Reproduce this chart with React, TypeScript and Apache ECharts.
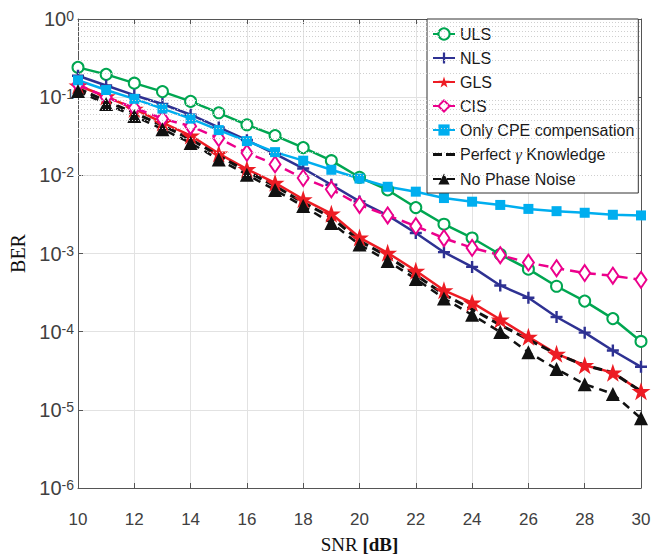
import React, { useEffect, useRef } from "react";
import * as echarts from "echarts";

// SNR points in dB
const snr = [10, 11, 12, 13, 14, 15, 16, 17, 18, 19, 20, 21, 22, 23, 24, 25, 26, 27, 28, 29, 30];

// Bit error rate for each estimator
const uls = [0.2405, 0.1955, 0.151, 0.1178, 0.0883, 0.0631, 0.0443, 0.0323, 0.0226, 0.0154, 0.00944, 0.0065, 0.00387, 0.00237, 0.00158, 0.000972, 0.000631, 0.000381, 0.000246, 0.000147, 7.5e-5];
const nls = [0.188, 0.141, 0.106, 0.0818, 0.0596, 0.041, 0.0282, 0.0188, 0.01224, 0.00757, 0.00464, 0.00307, 0.00183, 0.00104, 0.000674, 0.00039, 0.000272, 0.000154, 9.72e-5, 5.74e-5, 3.55e-5];
const gls = [0.141, 0.102, 0.0708, 0.0473, 0.0323, 0.019, 0.012, 0.00801, 0.00494, 0.00323, 0.0016, 0.00102, 0.000601, 0.000338, 0.000235, 0.000143, 8.59e-5, 5.2e-5, 3.72e-5, 2.99e-5, 1.73e-5];
const cis = [0.1454, 0.1, 0.0729, 0.0531, 0.0425, 0.0299, 0.0194, 0.0138, 0.00925, 0.00663, 0.00418, 0.00307, 0.00224, 0.00157, 0.00118, 0.000952, 0.000765, 0.000649, 0.000562, 0.00052, 0.00046];
const cpeOnly = [0.1645, 0.1234, 0.0952, 0.0714, 0.0531, 0.0379, 0.0274, 0.0198, 0.0154, 0.01178, 0.0091, 0.00714, 0.00618, 0.00512, 0.0046, 0.00418, 0.00372, 0.00348, 0.00332, 0.00313, 0.00307];
const perfectGamma = [0.1296, 0.0891, 0.0631, 0.0434, 0.029, 0.0178, 0.0112, 0.00729, 0.00447, 0.0029, 0.00145, 0.000917, 0.000531, 0.000299, 0.000194, 0.000122, 7.94e-5, 5.16e-5, 3.72e-5, 2.99e-5, 1.73e-5];
const noPhaseNoise = [0.12, 0.0818, 0.0574, 0.039, 0.0259, 0.016, 0.0102, 0.0065, 0.00404, 0.00246, 0.0013, 0.000802, 0.000473, 0.000266, 0.000164, 9.91e-5, 5.46e-5, 3.32e-5, 2.13e-5, 1.6e-5, 7.79e-6];

const PERFECT = "Perfect \u03b3 Knowledge";
const seriesNames = ["ULS", "NLS", "GLS", "CIS", "Only CPE compensation", PERFECT, "No Phase Noise"];

// Decades of the BER axis, used for the dotted minor grid
const decades = [-6, -5, -4, -3, -2, -1];
const minorSteps = [2, 3, 4, 5, 6, 7, 8, 9];

const SANS = "'Liberation Sans', Arial, Helvetica, sans-serif";
const SERIF = "'Liberation Serif', 'Times New Roman', serif";

const STAR = "path://M0,-100L22.45,-30.9L95.1,-30.9L36.3,11.8L58.8,80.9L0,38.2L-58.8,80.9L-36.3,11.8L-95.1,-30.9L-22.45,-30.9Z";
const PLUS = "path://M-2,-10H2V-2H10V2H2V10H-2V2H-10V-2H-2Z";
// two short dashes for the marker-less dashed line in the legend
const DASHES = "path://M0,0H9V3H0ZM13,0H22V3H13Z";

const zip = (ys: number[]) => snr.map((x, i) => [x, ys[i]]);

export default function App() {
  const ref = useRef<HTMLDivElement>(null);

  useEffect(() => {
    if (!ref.current) return;
    const chart = echarts.init(ref.current, undefined, { renderer: "svg" });

    const minorLines: any[] = [];
    decades.forEach((d) => minorSteps.forEach((k) => minorLines.push({ yAxis: k * Math.pow(10, d) })));

    const axisLine = { show: true, lineStyle: { color: "#555", width: 1 } };
    const tickStyle = { show: true, inside: true, length: 5, lineStyle: { color: "#555" } };

    const lineSeries = (name: string, data: number[], color: string, extra: any) => ({
      name,
      type: "line",
      data: zip(data),
      clip: false,
      color,
      lineStyle: { color, width: 2.5 },
      itemStyle: { color },
      ...extra,
    });

    chart.setOption({
      animation: false,
      backgroundColor: "#fff",
      grid: { left: 72, right: 23, top: 19, bottom: 60, containLabel: false },
      legend: {
        data: seriesNames.map((n) => (n === PERFECT ? { name: n, icon: DASHES } : n)),
        orient: "vertical",
        left: 427,
        top: 19,
        itemWidth: 22,
        itemHeight: 14,
        itemGap: 8,
        padding: [7, 4, 6, 5],
        backgroundColor: "#fff",
        borderColor: "#333",
        borderWidth: 1,
        borderRadius: 0,
        formatter: (name: string) =>
          name === PERFECT ? "{t|Perfect }{g|\u03b3}{t| Knowledge}" : "{t|" + name + "}",
        textStyle: {
          fontFamily: SANS,
          fontSize: 16,
          color: "#1a1a1a",
          rich: {
            t: { fontFamily: SANS, fontSize: 16, color: "#1a1a1a" },
            g: { fontFamily: SERIF, fontStyle: "italic", fontSize: 17, color: "#1a1a1a" },
          },
        },
      },
      xAxis: [
        {
          type: "value",
          min: 10,
          max: 30,
          interval: 2,
          name: "{a|SNR }{b|[dB]}",
          nameLocation: "middle",
          nameGap: 47,
          nameTextStyle: {
            rich: {
              a: { fontFamily: SERIF, fontSize: 19, color: "#111" },
              b: { fontFamily: SERIF, fontSize: 19, fontWeight: "bold", color: "#111" },
            },
          },
          axisLine,
          axisTick: tickStyle,
          axisLabel: { fontFamily: SANS, fontSize: 17, color: "#404040", margin: 23 },
          splitLine: { show: true, lineStyle: { color: "#e2e2e2", width: 1 } },
        },
        {
          type: "value",
          position: "top",
          min: 10,
          max: 30,
          interval: 2,
          axisLine,
          axisTick: tickStyle,
          axisLabel: { show: false },
          splitLine: { show: false },
        },
      ],
      yAxis: [
        {
          type: "log",
          logBase: 10,
          min: 1e-6,
          max: 1,
          splitNumber: 6,
          name: "BER",
          nameLocation: "middle",
          nameGap: 50,
          nameRotate: 90,
          nameTextStyle: { fontFamily: SERIF, fontSize: 20, color: "#111" },
          axisLine,
          axisTick: tickStyle,
          axisLabel: {
            margin: 4,
            formatter: (v: number) => "{b|10}{s|" + Math.round(Math.log10(v)) + "}",
            rich: {
              b: { fontFamily: SANS, fontSize: 20, color: "#404040", lineHeight: 20, verticalAlign: "bottom", padding: [8, 0, 0, 0] },
              s: { fontFamily: SANS, fontSize: 14, color: "#404040", lineHeight: 14, verticalAlign: "top" },
            },
          },
          splitLine: { show: true, lineStyle: { color: "#e2e2e2", width: 1 } },
        },
        {
          type: "log",
          logBase: 10,
          position: "right",
          min: 1e-6,
          max: 1,
          splitNumber: 6,
          axisLine,
          axisTick: tickStyle,
          axisLabel: { show: false },
          splitLine: { show: false },
        },
      ],
      series: [
        {
          name: "minor-grid",
          type: "line",
          data: [],
          silent: true,
          z: 0,
          markLine: {
            silent: true,
            symbol: "none",
            label: { show: false },
            lineStyle: { color: "#cfcfcf", type: [1, 2], width: 1 },
            data: minorLines,
            animation: false,
          },
        },
        lineSeries("ULS", uls, "#00a651", {
          symbol: "emptyCircle",
          symbolSize: 11,
          itemStyle: { color: "#00a651", borderColor: "#00a651", borderWidth: 2.5 },
        }),
        lineSeries("NLS", nls, "#2e3192", {
          symbol: PLUS,
          symbolSize: 12,
        }),
        lineSeries("GLS", gls, "#ed1c24", {
          symbol: STAR,
          symbolSize: [19, 18],
        }),
        lineSeries("CIS", cis, "#ec008c", {
          symbol: "emptyDiamond",
          symbolSize: [11, 16],
          lineStyle: { color: "#ec008c", width: 2.5, type: [10, 6] },
          itemStyle: { color: "#ec008c", borderColor: "#ec008c", borderWidth: 2.5 },
        }),
        lineSeries("Only CPE compensation", cpeOnly, "#00aeef", {
          symbol: "rect",
          symbolSize: 10,
        }),
        lineSeries(PERFECT, perfectGamma, "#111", {
          symbol: "none",
          lineStyle: { color: "#111", width: 3, type: [9, 5] },
        }),
        lineSeries("No Phase Noise", noPhaseNoise, "#111", {
          symbol: "triangle",
          symbolSize: 14,
          lineStyle: { color: "#111", width: 2.5, type: [8, 6] },
        }),
      ],
    });

    return () => chart.dispose();
  }, []);

  return <div ref={ref} style={{ width: 664, height: 559, position: "absolute", left: 0, top: 0 }} />;
}
